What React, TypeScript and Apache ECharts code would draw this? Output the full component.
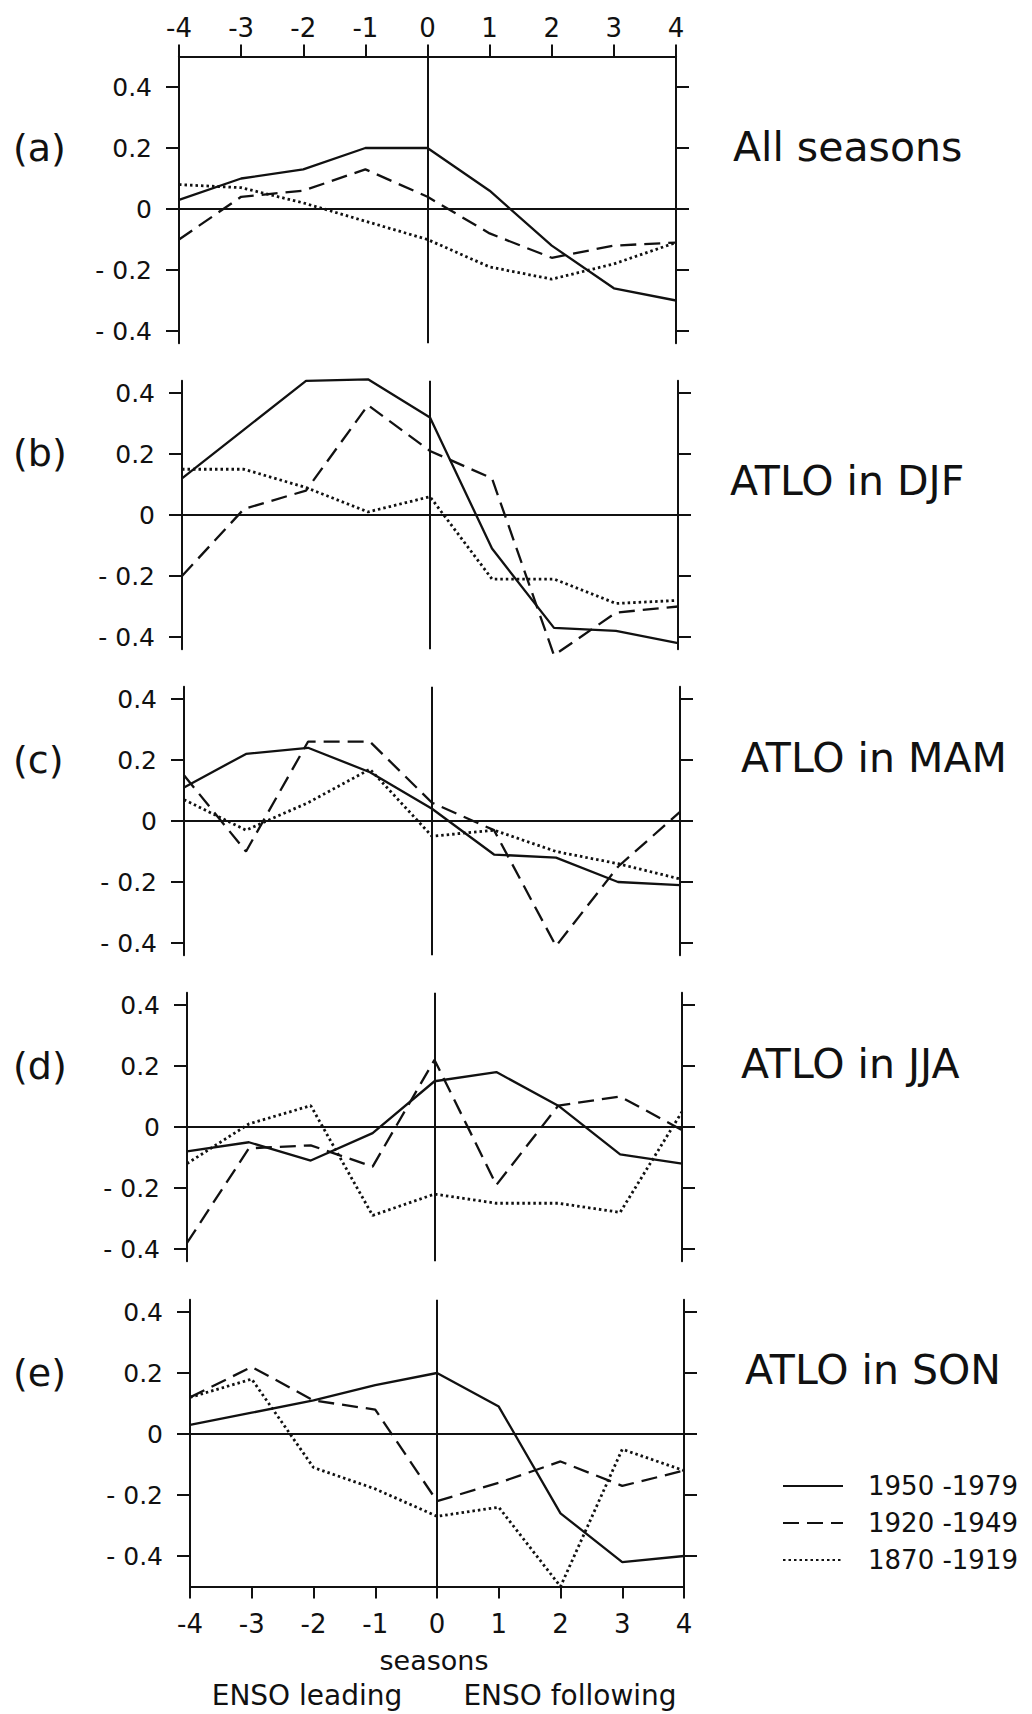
import React, { useEffect, useRef } from "react";
import * as echarts from "echarts";

const seasons = [-4, -3, -2, -1, 0, 1, 2, 3, 4];
const yTicks = [-0.4, -0.2, 0, 0.2, 0.4];
const periodNames = ["1950 -1979", "1920 -1949", "1870 -1919"];

const a1950 = [0.03, 0.10, 0.13, 0.20, 0.20, 0.06, -0.12, -0.26, -0.30];
const a1920 = [-0.10, 0.04, 0.06, 0.13, 0.04, -0.08, -0.16, -0.12, -0.11];
const a1870 = [0.08, 0.07, 0.02, -0.04, -0.10, -0.19, -0.23, -0.18, -0.11];

const b1950 = [0.12, 0.28, 0.44, 0.445, 0.32, -0.11, -0.37, -0.38, -0.42];
const b1920 = [-0.20, 0.02, 0.08, 0.36, 0.21, 0.12, -0.46, -0.32, -0.30];
const b1870 = [0.15, 0.15, 0.09, 0.01, 0.06, -0.21, -0.21, -0.29, -0.28];

const c1950 = [0.11, 0.22, 0.24, 0.16, 0.04, -0.11, -0.12, -0.20, -0.21];
const c1920 = [0.15, -0.10, 0.26, 0.26, 0.06, -0.03, -0.41, -0.15, 0.03];
const c1870 = [0.07, -0.03, 0.06, 0.17, -0.05, -0.03, -0.10, -0.14, -0.19];

const d1950 = [-0.08, -0.05, -0.11, -0.02, 0.15, 0.18, 0.07, -0.09, -0.12];
const d1920 = [-0.38, -0.07, -0.06, -0.13, 0.22, -0.19, 0.07, 0.10, -0.01];
const d1870 = [-0.12, 0.01, 0.07, -0.29, -0.22, -0.25, -0.25, -0.28, 0.05];

const e1950 = [0.03, 0.07, 0.11, 0.16, 0.20, 0.09, -0.26, -0.42, -0.40];
const e1920 = [0.12, 0.22, 0.11, 0.08, -0.22, -0.16, -0.09, -0.17, -0.12];
const e1870 = [0.12, 0.18, -0.11, -0.18, -0.27, -0.24, -0.50, -0.05, -0.12];

const panelTags = ["(a)", "(b)", "(c)", "(d)", "(e)"];
const panelTitles = ["All seasons", "ATLO in DJF", "ATLO in MAM", "ATLO in JJA", "ATLO in SON"];
const panelData = [
  [a1950, a1920, a1870],
  [b1950, b1920, b1870],
  [c1950, c1920, c1870],
  [d1950, d1920, d1870],
  [e1950, e1920, e1870],
];

// layout
const UNIT = 305;
const layout = [
  { left: 179, width: 497, zero: 209, min: -0.44, max: 0.5, tagY: 148, titleX: 733, titleY: 147 },
  { left: 182, width: 496, zero: 515, min: -0.44, max: 0.44, tagY: 453, titleX: 730, titleY: 481 },
  { left: 184, width: 496, zero: 821, min: -0.44, max: 0.44, tagY: 760, titleX: 741, titleY: 758 },
  { left: 187, width: 495, zero: 1127, min: -0.44, max: 0.44, tagY: 1066, titleX: 741, titleY: 1064 },
  { left: 190, width: 494, zero: 1434, min: -0.5, max: 0.44, tagY: 1373, titleX: 745, titleY: 1370 },
];

const FONT = '"DejaVu Sans", sans-serif';
const INK = "#111";
const lineTypes: any[] = ["solid", [16, 8], [2.5, 3]];
const lineWidths = [2.3, 2.3, 2.8];

function yFmt(v: number) {
  if (Math.abs(v) < 1e-9) return "0";
  return v < 0 ? "- " + Math.abs(v).toFixed(1) : v.toFixed(1);
}
function xFmt(v: number) {
  return v < 0 ? "-" + Math.abs(v) : String(v);
}

function buildOption() {
  const grid: any[] = [];
  const xAxis: any[] = [];
  const yAxis: any[] = [];
  const series: any[] = [];
  const graphic: any[] = [];

  layout.forEach((L, i) => {
    grid.push({
      left: L.left,
      width: L.width,
      top: L.zero - L.max * UNIT,
      height: (L.max - L.min) * UNIT,
    });
    const isTop = i === 0;
    const isBottom = i === layout.length - 1;
    xAxis.push({
      type: "value",
      gridIndex: i,
      min: -4,
      max: 4,
      interval: 1,
      position: isTop ? "top" : "bottom",
      show: isTop || isBottom,
      axisLine: { show: true, onZero: false, lineStyle: { color: INK, width: 2 } },
      axisTick: { show: true, inside: false, length: 12, lineStyle: { color: INK, width: 2 } },
      axisLabel: {
        show: true,
        formatter: xFmt,
        color: INK,
        fontFamily: FONT,
        fontSize: 26,
        margin: isTop ? 16 : 24,
      },
      splitLine: { show: false },
    });
    const yBase = {
      type: "value",
      gridIndex: i,
      min: L.min,
      max: L.max,
      axisLine: { show: true, onZero: false, lineStyle: { color: INK, width: 2 } },
      axisTick: {
        show: true,
        inside: false,
        length: 13,
        customValues: yTicks,
        lineStyle: { color: INK, width: 2 },
      },
      splitLine: { show: false },
    };
    yAxis.push({
      ...yBase,
      position: "left",
      axisLabel: {
        show: true,
        customValues: yTicks,
        formatter: yFmt,
        color: INK,
        fontFamily: FONT,
        fontSize: 25,
        margin: 27,
      },
    });
    yAxis.push({
      ...yBase,
      position: "right",
      axisLabel: { show: false },
    });

    panelData[i].forEach((vals, k) => {
      const s: any = {
        type: "line",
        name: periodNames[k],
        xAxisIndex: i,
        yAxisIndex: i * 2,
        data: seasons.map((x, j) => [x, vals[j]]),
        symbol: "none",
        showSymbol: false,
        clip: false,
        silent: true,
        lineStyle: { color: INK, width: lineWidths[k], type: lineTypes[k] },
        itemStyle: { color: INK },
        z: 3,
      };
      if (k === 0) {
        s.markLine = {
          silent: true,
          symbol: ["none", "none"],
          label: { show: false },
          lineStyle: { color: INK, width: 2, type: "solid" },
          data: [{ yAxis: 0 }, { xAxis: 0 }],
        };
      }
      series.push(s);
    });

    graphic.push({
      type: "text",
      x: 13,
      y: L.tagY,
      style: {
        text: panelTags[i],
        fill: INK,
        font: `38px ${FONT}`,
        textAlign: "left",
        textVerticalAlign: "middle",
      },
    });
    graphic.push({
      type: "text",
      x: L.titleX,
      y: L.titleY,
      style: {
        text: panelTitles[i],
        fill: INK,
        font: `41px ${FONT}`,
        textAlign: "left",
        textVerticalAlign: "middle",
      },
    });
  });

  graphic.push({
    type: "text",
    x: 434,
    y: 1660,
    style: { text: "seasons", fill: INK, font: `27px ${FONT}`, textAlign: "center", textVerticalAlign: "middle" },
  });
  graphic.push({
    type: "text",
    x: 307,
    y: 1695,
    style: { text: "ENSO leading", fill: INK, font: `28px ${FONT}`, textAlign: "center", textVerticalAlign: "middle" },
  });
  graphic.push({
    type: "text",
    x: 570,
    y: 1695,
    style: { text: "ENSO following", fill: INK, font: `28px ${FONT}`, textAlign: "center", textVerticalAlign: "middle" },
  });

  return {
    animation: false,
    backgroundColor: "#fff",
    grid,
    xAxis,
    yAxis,
    series,
    graphic,
    legend: {
      data: periodNames,
      orient: "vertical",
      left: 777,
      top: 1468,
      itemWidth: 60,
      itemHeight: 14,
      itemGap: 11,
      selectedMode: false,
      itemStyle: { opacity: 0, borderWidth: 0 },
      textStyle: { color: INK, fontFamily: FONT, fontSize: 26, padding: [0, 0, 0, 20] },
    },
  };
}

export default function App() {
  const ref = useRef<HTMLDivElement | null>(null);
  useEffect(() => {
    const chart = echarts.init(ref.current as HTMLDivElement, null, { renderer: "svg" });
    chart.setOption(buildOption() as any);
    return () => chart.dispose();
  }, []);
  return (
    <div
      ref={ref}
      style={{ position: "absolute", left: 0, top: 0, width: 1032, height: 1714, background: "#fff" }}
    />
  );
}
